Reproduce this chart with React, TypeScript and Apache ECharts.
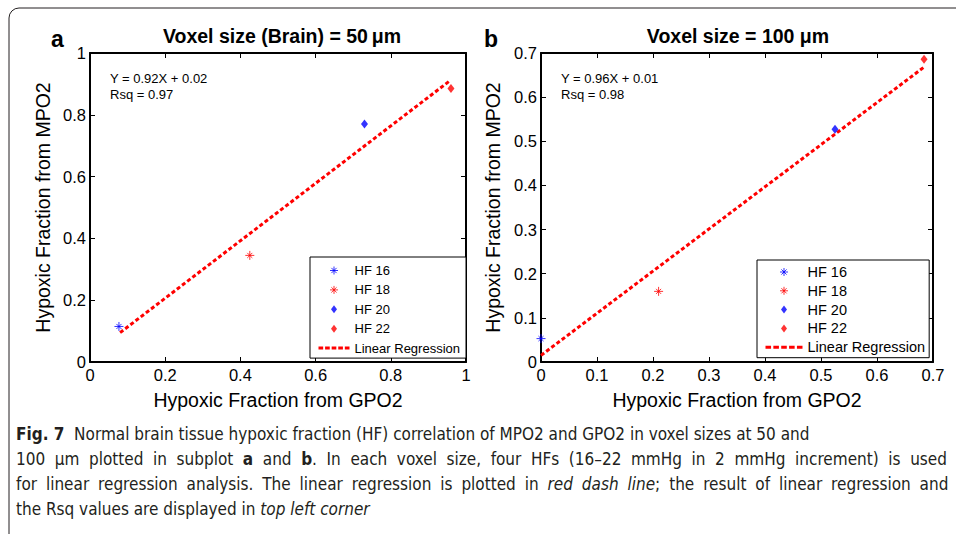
import React, { useEffect, useRef } from 'react';
import * as echarts from 'echarts';

// ---------- data ----------
const hfNames = ['HF 16', 'HF 18', 'HF 20', 'HF 22'];
const fitName = 'Linear Regression';

// panel a : voxel 50 um
const aGPO2 = [0.077, 0.425, 0.73, 0.96];
const aMPO2 = [0.115, 0.345, 0.77, 0.885];
const aFitX = [0.08, 0.957];
const aFitY = [0.095, 0.91];

// panel b : voxel 100 um
const bGPO2 = [0.0, 0.21, 0.525, 0.684];
const bMPO2 = [0.053, 0.16, 0.527, 0.686];
const bFitX = [0.0, 0.684];
const bFitY = [0.015, 0.668];

const aTitle = 'Voxel size (Brain) = 50\u2009\u03bcm';
const bTitle = 'Voxel size = 100 \u03bcm';
const aEq = ['Y = 0.92X + 0.02', 'Rsq = 0.97'];
const bEq = ['Y = 0.96X + 0.01', 'Rsq = 0.98'];
const xName = 'Hypoxic Fraction from GPO2';
const yName = 'Hypoxic Fraction from MPO2';

const captionLines: [string, string][][] = [
  [['b', 'Fig. 7'], ['n', '  Normal brain tissue hypoxic fraction (HF) correlation of MPO2 and GPO2 in voxel sizes at 50 and']],
  [['n', '100 \u03bcm plotted in subplot '], ['b', 'a'], ['n', ' and '], ['b', 'b'], ['n', '. In each voxel size, four HFs (16\u201322 mmHg in 2 mmHg increment) is used']],
  [['n', 'for linear regression analysis. The linear regression is plotted in '], ['i', 'red dash line'], ['n', '; the result of linear regression and']],
  [['n', 'the Rsq values are displayed in '], ['i', 'top left corner']],
];
// justified lines get wider word spaces
const captionSpace = [0, 9.6, 8.9, 0];

const BLUE = '#0000ff';
const RED = '#ff0000';
const ASTER = 'path://M5,0L5,10M0,5L10,5M2.2,2.2L7.8,7.8M2.2,7.8L7.8,2.2';
const markerSymbols = [ASTER, ASTER, 'diamond', 'diamond'];
const markerColors = [BLUE, RED, BLUE, RED];
const markerSizes: any[] = [[9, 9], [9, 9], [7, 9], [7, 9]];

const FONT = '"Liberation Sans", Arial, sans-serif';
const CAPFONT = '"Liberation Sans Narrow", "DejaVu Sans Condensed", "Open Sans", sans-serif';

// legend icons drawn in a box of w x 12 (invisible corner points fix the scale)
function legendIcons(w: number) {
  const c = w / 2;
  const bounds = `M0,0L0,0M${w},12L${w},12`;
  const aster = `path://${bounds}M${c},2L${c},10M${c - 4},6L${c + 4},6M${c - 2.6},3.4L${c + 2.6},8.6M${c - 2.6},8.6L${c + 2.6},3.4`;
  const diamond = `path://${bounds}M${c},2L${c + 3},6L${c},10L${c - 3},6Z`;
  const n = 5;
  const gap = w * 0.062;
  const dash = (w - gap * (n - 1)) / n;
  let d = bounds;
  for (let i = 0; i < n; i++) {
    const x0 = i * (dash + gap);
    d += `M${x0},4.5L${x0 + dash},4.5L${x0 + dash},7.5L${x0},7.5Z`;
  }
  return [aster, aster, diamond, diamond, 'path://' + d];
}

function App() {
  const ref = useRef<HTMLDivElement>(null);
  useEffect(() => {
    if (!ref.current) return;
    const chart = echarts.init(ref.current, null, { renderer: 'svg' });

    const grids = [
      { left: 90, top: 53, width: 376, height: 309 },
      { left: 541, top: 53, width: 392, height: 309 },
    ];
    const ranges = [
      { max: 1, interval: 0.2 },
      { max: 0.7, interval: 0.1 },
    ];
    const yNameGap = [37, 38];

    const xAxes: any[] = [];
    const yAxes: any[] = [];
    [0, 1].forEach((g) => {
      const r = ranges[g];
      const common = {
        gridIndex: g,
        type: 'value',
        min: 0,
        max: r.max,
        interval: r.interval,
        splitLine: { show: false },
        axisLine: { show: true, onZero: false, lineStyle: { color: '#000', width: 2 } },
        axisTick: { show: true, inside: true, length: 5, lineStyle: { color: '#000', width: 1 } },
      };
      xAxes.push({
        ...common,
        position: 'bottom',
        name: xName,
        nameLocation: 'middle',
        nameGap: 28,
        nameTextStyle: { fontSize: 19.5, color: '#000', fontFamily: FONT },
        axisLabel: { fontSize: 16.5, color: '#000', fontFamily: FONT, margin: 4 },
      });
      xAxes.push({ ...common, position: 'top', axisLabel: { show: false } });
      yAxes.push({
        ...common,
        position: 'left',
        name: yName,
        nameLocation: 'middle',
        nameGap: yNameGap[g],
        nameTextStyle: { fontSize: 19.5, color: '#000', fontFamily: FONT },
        axisLabel: { fontSize: 16.5, color: '#000', fontFamily: FONT, margin: 4 },
      });
      yAxes.push({ ...common, position: 'right', axisLabel: { show: false } });
    });

    const series: any[] = [];
    const panels = [
      { gx: aGPO2, gy: aMPO2, fx: aFitX, fy: aFitY },
      { gx: bGPO2, gy: bMPO2, fx: bFitX, fy: bFitY },
    ];
    panels.forEach((p, g) => {
      series.push({
        type: 'line',
        name: fitName,
        xAxisIndex: g * 2,
        yAxisIndex: g * 2,
        data: p.fx.map((x, i) => [x, p.fy[i]]),
        symbol: 'none',
        z: 2,
        lineStyle: { color: RED, width: 3, type: [4, 2.5] },
        itemStyle: { color: RED, borderWidth: 0 },
      });
      hfNames.forEach((n, i) => {
        series.push({
          type: 'scatter',
          name: n,
          xAxisIndex: g * 2,
          yAxisIndex: g * 2,
          data: [[p.gx[i], p.gy[i]]],
          symbol: markerSymbols[i],
          symbolSize: markerSizes[i],
          z: 3,
          itemStyle: {
            color: markerColors[i],
            borderColor: markerColors[i],
            borderWidth: i < 2 ? 1 : 0,
          },
        });
      });
    });

    const legendData = (w: number) => {
      const icons = legendIcons(w);
      return [...hfNames, fitName].map((n, i) => ({
        name: n,
        icon: icons[i],
        itemStyle:
          i < 2
            ? { color: markerColors[i], borderColor: markerColors[i], borderWidth: 1 }
            : { color: i < 4 ? markerColors[i] : RED, borderWidth: 0 },
      }));
    };

    const legendCommon = {
      orient: 'vertical',
      borderColor: '#000',
      borderWidth: 1,
      backgroundColor: '#fff',
      selectedMode: false,
      symbolKeepAspect: true,
      itemHeight: 12,
    };

    const buildLine = (segs: [string, string][], sp: string | null) =>
      segs
        .map(([k, t]) => {
          if (!sp) return `{${k}|${t}}`;
          return t
            .split(' ')
            .map((w) => (w ? `{${k}|${w}}` : ''))
            .join(`{${sp}| }`);
        })
        .join('');

    const capGraphics = captionLines.map((segs, li) => ({
      type: 'text',
      left: 16,
      top: 425 + li * 25,
      style: {
        text: buildLine(segs, captionSpace[li] ? 'sp' : null),
        rich: {
          n: { fontFamily: CAPFONT, fontSize: 17, fill: '#231f20' },
          b: { fontFamily: CAPFONT, fontSize: 17, fontWeight: 'bold', fill: '#231f20' },
          i: { fontFamily: CAPFONT, fontSize: 17, fontStyle: 'italic', fill: '#231f20' },
          sp: { fontFamily: CAPFONT, fontSize: 17, width: captionSpace[li] || 5, fill: '#231f20' },
        },
      },
    }));

    const titleStyle = { fontSize: 19.5, fontWeight: 'bold', color: '#000', fontFamily: FONT };

    chart.setOption({
      animation: false,
      backgroundColor: '#fff',
      title: [
        { text: aTitle, left: 282, top: 26, textAlign: 'center', padding: 0, textStyle: titleStyle },
        { text: bTitle, left: 738, top: 26, textAlign: 'center', padding: 0, textStyle: titleStyle },
      ],
      legend: [
        {
          ...legendCommon,
          left: 310,
          top: 257,
          padding: [7, 6, 3.5, 8],
          itemWidth: 31,
          itemGap: 6.4,
          textStyle: { fontSize: 13, color: '#000', fontFamily: FONT },
          data: legendData(31),
        },
        {
          ...legendCommon,
          left: 757,
          top: 260,
          padding: [4.5, 4, 3, 8],
          itemWidth: 37,
          itemGap: 3.8,
          textStyle: { fontSize: 14.5, color: '#000', fontFamily: FONT },
          data: legendData(37),
        },
      ],
      grid: grids,
      xAxis: xAxes,
      yAxis: yAxes,
      series,
      graphic: [
        {
          type: 'rect',
          shape: { x: 9, y: 8, width: 1000, height: 540, r: 10 },
          style: { fill: 'none', stroke: '#231f20', lineWidth: 1 },
          silent: true,
        },
        {
          type: 'text',
          left: 51,
          top: 27,
          style: { text: 'a', fontSize: 23, fontWeight: 'bold', fontFamily: FONT, fill: '#000' },
        },
        {
          type: 'text',
          left: 484,
          top: 27,
          style: { text: 'b', fontSize: 23, fontWeight: 'bold', fontFamily: FONT, fill: '#000' },
        },
        {
          type: 'text',
          left: 110,
          top: 70,
          style: { text: aEq.join('\n'), fontSize: 13, lineHeight: 16, fontFamily: FONT, fill: '#000' },
        },
        {
          type: 'text',
          left: 561,
          top: 70,
          style: { text: bEq.join('\n'), fontSize: 13, lineHeight: 16, fontFamily: FONT, fill: '#000' },
        },
        ...capGraphics,
      ],
    });
    return () => chart.dispose();
  }, []);
  return (
    <div
      ref={ref}
      style={{ position: 'absolute', left: 0, top: 0, width: 956, height: 534, background: '#fff' }}
    />
  );
}

export default App;
